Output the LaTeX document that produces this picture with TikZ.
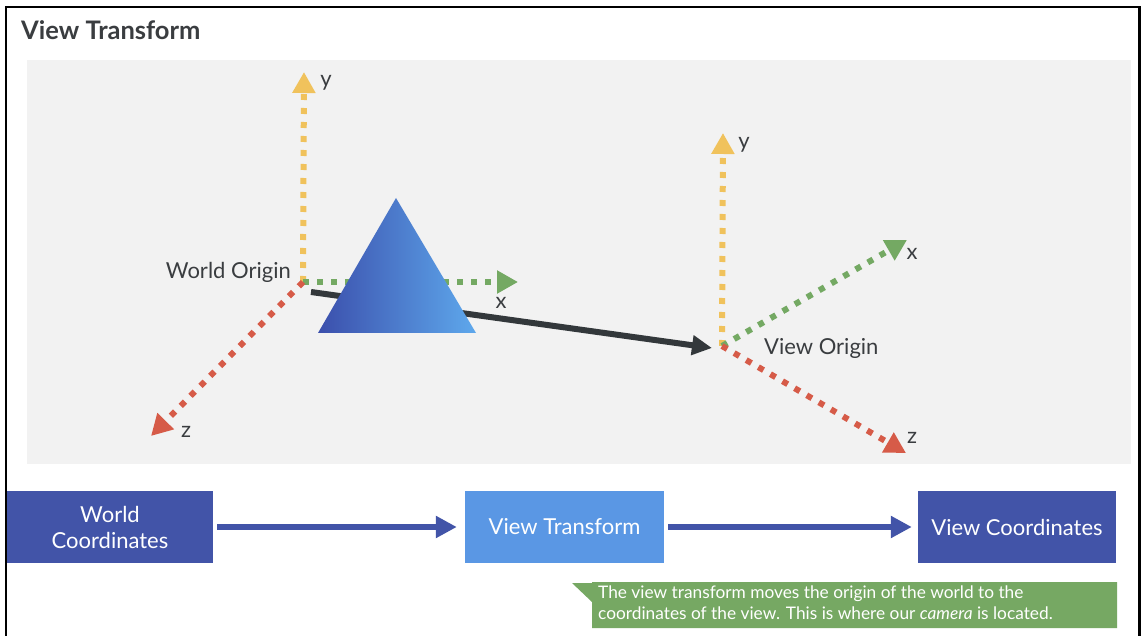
\documentclass[tikz,border=0pt]{standalone}
\usepackage{fontspec}
\setmainfont{Lato}
\usetikzlibrary{arrows.meta}
\definecolor{ink}{HTML}{3A3D40}
\definecolor{bggray}{HTML}{F2F2F2}
\definecolor{axy}{HTML}{F0C25C}
\definecolor{axx}{HTML}{74A963}
\definecolor{axz}{HTML}{D65B48}
\definecolor{dark}{HTML}{33383B}
\definecolor{boxdark}{HTML}{4254A8}
\definecolor{boxlight}{HTML}{5A97E4}
\definecolor{trileft}{HTML}{3B4FAC}
\definecolor{triright}{HTML}{5EA8EC}
\definecolor{callout}{HTML}{76A863}
\tikzset{
  axis/.style={line width=6pt, dash pattern=on 6pt off 8pt,
    -{Triangle[width=22pt,length=21pt]}},
  lbl/.style={text=ink, font=\fontsize{22}{26}\selectfont, inner sep=0pt},
  flowbox/.style={minimum width=206pt, minimum height=72pt, inner sep=0pt,
    text=white, align=center, font=\fontsize{22}{26}\selectfont},
  flowarrow/.style={draw=boxdark, line width=6pt,
    -{Triangle[width=21pt,length=21pt]}},
}
\begin{document}
\begin{tikzpicture}[x=1pt,y=1pt]
\useasboundingbox (0,0) rectangle (1141,-636);
\fill[white] (0,0) rectangle (1141,-636);
% frame
\draw[line width=2.5pt] (6,-636) -- (6,-7) -- (1139.5,-7) -- (1139.5,-636);
\node[anchor=west, text=ink, font=\bfseries\fontsize{25.5}{30}\selectfont, inner sep=0pt] (title) at (21,-30) {View Transform};
% panel
\fill[bggray] (27,-60) rectangle (1131,-464);

% world origin
\coordinate (wo) at (303,-282);
\coordinate (wy) at (304,-72);
\coordinate (wx) at (518,-282);
\coordinate (wz) at (151,-436);
\draw[axis, axy] (wo) -- (wy);
\draw[axis, axx] (wo) -- (wx);
\draw[axis, axz] (wo) -- (wz);
\node[lbl] (wyl) at (326,-83) {y};
\node[lbl] (wxl) at (501,-303) {x};
\node[lbl] (wzl) at (186,-432) {z};
\node[lbl, anchor=east] (wol) at (291,-272) {World Origin};

% view origin
\coordinate (vo) at (722,-346);
\coordinate (vy) at (723,-133);
\coordinate (vx) at (907,-240);
\coordinate (vz) at (906,-453);
\draw[axis, axy] (vo) -- (vy);
\draw[axis, axx] (vo) -- (vx);
\draw[axis, axz] (vo) -- (vz);
\node[lbl] (vyl) at (744,-145) {y};
\node[lbl] (vxl) at (912,-254) {x};
\node[lbl] (vzl) at (912,-438) {z};
\node[lbl, anchor=west] (vol) at (764,-348) {View Origin};

% black translation arrow
\coordinate (ts) at (311,-292);
\coordinate (te) at (712,-348);
\draw[dark, line width=6pt, -{Triangle[width=19pt,length=20pt]}] (ts) -- (te);

% triangle object
\shade[left color=trileft, right color=triright] (396,-198) -- (476,-333) -- (318,-333) -- cycle;

% flow
\node[flowbox, fill=boxdark, minimum width=206pt] (wc) at (110,-527) {World\\Coordinates};
\node[flowbox, fill=boxlight, minimum width=199pt] (vt) at (564.5,-527) {View Transform};
\node[flowbox, fill=boxdark, minimum width=198pt] (vc) at (1017,-527) {View Coordinates};
\draw[flowarrow] ([xshift=4pt]wc.east) -- ([xshift=-8pt]vt.west);
\draw[flowarrow] ([xshift=4pt]vt.east) -- ([xshift=-6pt]vc.west);

% callout
\fill[callout] (572,-583) -- (592,-583) -- (592,-582) -- (1117,-582) -- (1117,-628) -- (592,-628) -- (592,-602) -- cycle;
\node[anchor=north west, text=white, align=left, inner sep=0pt,
  font=\fontsize{17.3}{21}\selectfont] (note) at (598,-586)
  {The view transform moves the origin of the world to the\\coordinates of the view. This is where our \textit{camera} is located.};
\end{tikzpicture}
\end{document}
